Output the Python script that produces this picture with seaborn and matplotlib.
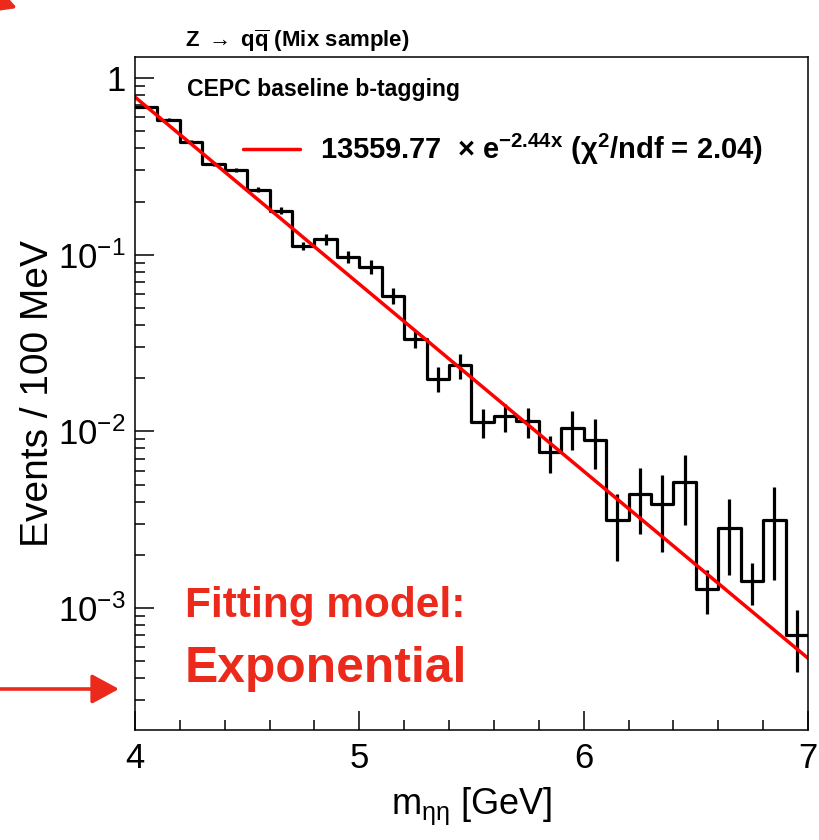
import numpy as np
import matplotlib
matplotlib.use("Agg")
import matplotlib.pyplot as plt
from matplotlib.ticker import FixedLocator, MultipleLocator, LogLocator, NullFormatter
from matplotlib.patches import FancyArrowPatch, ArrowStyle
import seaborn as sns

# ---------------- data ----------------
bin_edges = [4.0, 4.1, 4.2, 4.3, 4.4, 4.5, 4.6, 4.7, 4.8, 4.9, 5.0,
             5.1, 5.2, 5.3, 5.4, 5.5, 5.6, 5.7, 5.8, 5.9, 6.0,
             6.1, 6.2, 6.3, 6.4, 6.5, 6.6, 6.7, 6.8, 6.9, 7.0]
events = [0.686, 0.58, 0.435, 0.327, 0.302, 0.233, 0.177, 0.112, 0.122, 0.0975,
          0.0856, 0.0587, 0.0335, 0.0199, 0.0236, 0.01125, 0.01216, 0.01139, 0.0076, 0.0104,
          0.0089, 0.00314, 0.00441, 0.00387, 0.00515, 0.00128, 0.00283, 0.00142, 0.00314, 0.000703]
errors = [0.012, 0.011, 0.009, 0.008, 0.009, 0.008, 0.008, 0.006, 0.009, 0.008,
          0.008, 0.0062, 0.0040, 0.0032, 0.0038, 0.0021, 0.0022, 0.0022, 0.0018, 0.0026,
          0.0028, 0.0013, 0.0018, 0.0018, 0.0022, 0.00036, 0.0013, 0.00038, 0.0017, 0.00027]
fit_x = [4.0, 7.0]
fit_y = [0.78, 5.2e-4]

x_ticks = [4, 5, 6, 7]
x_tick_labels = ["4", "5", "6", "7"]
y_ticks = [1.0, 1e-1, 1e-2, 1e-3]
y_tick_labels = ["1", r"$10^{-1}$", r"$10^{-2}$", r"$10^{-3}$"]

fit_label = r"13559.77  $\times$ e$^{\mathbf{-2.44x}}$ (χ$^{\mathbf{2}}$/ndf = 2.04)"
title_text = r"Z $\rightarrow$ q$\overline{\mathbf{q}}$ (Mix sample)"
tag_text = "CEPC baseline b-tagging"
model_line1 = "Fitting model:"
model_line2 = "Exponential"

# ---------------- style ----------------
sns.set_style("ticks")
plt.rcParams['font.family'] = ['Liberation Sans', 'DejaVu Sans']
plt.rcParams['mathtext.fontset'] = 'custom'
plt.rcParams['mathtext.rm'] = 'Liberation Sans'
plt.rcParams['mathtext.it'] = 'Liberation Sans:italic'
plt.rcParams['mathtext.bf'] = 'Liberation Sans:bold'
plt.rcParams['mathtext.default'] = 'regular'
plt.rcParams['text.color'] = 'black'
plt.rcParams['axes.labelcolor'] = 'black'
plt.rcParams['xtick.color'] = 'black'
plt.rcParams['ytick.color'] = 'black'
plt.rcParams['axes.edgecolor'] = 'black'

RED_TXT = '#ec2a1c'

fig = plt.figure(figsize=(8.2, 8.4), dpi=100)
ax = fig.add_axes([135 / 820, 1 - 730 / 840, 673 / 820, 673 / 840])

centers = [(a + b) / 2 for a, b in zip(bin_edges[:-1], bin_edges[1:])]

sns.histplot(x=centers, weights=events, bins=bin_edges, element="step", fill=False,
             color="black", linewidth=2.3, ax=ax)
ax.errorbar(centers, events, yerr=errors, fmt="none", ecolor="black",
            elinewidth=2.3, capsize=0)
sns.lineplot(x=fit_x, y=fit_y, color="#ff0000", linewidth=2.5, ax=ax, label=fit_label)

ax.set_yscale("log")
ax.set_xlim(4.0, 7.0)
ax.set_ylim(2.04e-4, 1.315)

ax.xaxis.set_major_locator(FixedLocator(x_ticks))
ax.set_xticklabels(x_tick_labels)
ax.xaxis.set_minor_locator(MultipleLocator(0.2))
ax.yaxis.set_major_locator(FixedLocator(y_ticks))
ax.set_yticklabels(y_tick_labels)
ax.yaxis.set_minor_locator(LogLocator(base=10, subs=np.arange(2, 10)))
ax.yaxis.set_minor_formatter(NullFormatter())

ax.tick_params(axis="both", which="major", direction="in", length=14, width=1.1,
               labelsize=25, top=False, right=False, colors="black")
ax.tick_params(axis="both", which="minor", direction="in", length=7, width=1.1,
               top=False, right=False, colors="black")
ax.tick_params(axis="x", which="major", pad=9)
ax.tick_params(axis="y", which="major", pad=7)
for s in ax.spines.values():
    s.set_linewidth(1.1)
    s.set_color("black")

ax.set_xlabel(r"m$_{\mathrm{ηη}}$ [GeV]", fontsize=26, color="black")
ax.set_ylabel("Events / 100 MeV", fontsize=28, color="black")
ax.xaxis.set_label_coords(0.5, -0.083)
ax.yaxis.set_label_coords(-0.118, 0.5)

leg = ax.legend(loc="center left", bbox_to_anchor=(0.16, 0.862), frameon=False,
                prop=dict(family="Liberation Sans", weight="bold", size=21),
                handlelength=1.95, handletextpad=0.7, borderpad=0, borderaxespad=0)
for t in leg.get_texts():
    t.set_color("black")

fig.text(185 / 820, 1 - 41 / 840, title_text, fontsize=16, fontweight="bold",
         va="center", ha="left", color="black")
ax.text(0.077, 0.951, tag_text, transform=ax.transAxes, fontsize=16.6,
        fontweight="bold", va="center", ha="left", color="black")
ax.text(0.074, 0.168, model_line1, transform=ax.transAxes, fontsize=30.5,
        fontweight="bold", color=RED_TXT, va="baseline", ha="left")
ax.text(0.074, 0.0713, model_line2, transform=ax.transAxes, fontsize=35.8,
        fontweight="bold", color=RED_TXT, va="baseline", ha="left")

# red annotation arrows (figure pixel positions /100 -> inches)
style = ArrowStyle("-|>", head_length=0.83, head_width=0.45)
arr1 = FancyArrowPatch((-0.05, 1.51), (1.19, 1.51), transform=fig.dpi_scale_trans,
                       arrowstyle=style, mutation_scale=20, color=RED_TXT, lw=2.6,
                       shrinkA=0, shrinkB=0)
fig.add_artist(arr1)
arr2 = FancyArrowPatch((-0.6, 8.6), (0.17, 8.32), transform=fig.dpi_scale_trans,
                       arrowstyle=style, mutation_scale=24, color=RED_TXT, lw=2.6,
                       shrinkA=0, shrinkB=0)
fig.add_artist(arr2)

fig.savefig("out.png", dpi=100)
